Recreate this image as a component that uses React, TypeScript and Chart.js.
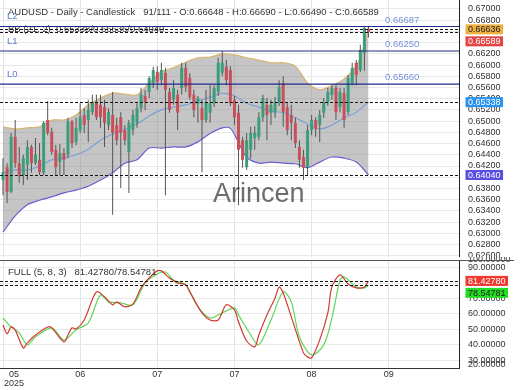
import React, { useEffect, useRef } from 'react';
import { Chart, registerables } from 'chart.js';

Chart.register(...registerables);

const FONT = '"Liberation Sans", Arial, Helvetica, sans-serif';

// ---------------- data ----------------
const symbol = 'AUDUSD';
const timeframe = 'Daily';
const chartKind = 'Candlestick';
const barCounter = '91/111';

// [open, high, low, close]
const ohlc: number[][] = [
  [0.6395, 0.6434, 0.6368, 0.6409],
  [0.6418, 0.6425, 0.6354, 0.6374],
  [0.6374, 0.6479, 0.6372, 0.6472],
  [0.6472, 0.6502, 0.6417, 0.6425],
  [0.6425, 0.6454, 0.639, 0.6404],
  [0.6404, 0.644, 0.6386, 0.6434],
  [0.6422, 0.6466, 0.6395, 0.6454],
  [0.6454, 0.6458, 0.6408, 0.6425],
  [0.6425, 0.647, 0.6422, 0.644],
  [0.6431, 0.6461, 0.6404, 0.6409],
  [0.6408, 0.65, 0.6404, 0.6497],
  [0.6502, 0.6536, 0.6475, 0.6479],
  [0.6481, 0.6488, 0.644, 0.6445],
  [0.6449, 0.6458, 0.6404, 0.6418],
  [0.6427, 0.6459, 0.6404, 0.6443],
  [0.6443, 0.6452, 0.6404, 0.6431],
  [0.644, 0.6506, 0.6434, 0.6499],
  [0.6499, 0.6502, 0.6452, 0.6461],
  [0.6463, 0.6506, 0.6457, 0.6488],
  [0.6484, 0.6532, 0.6479, 0.6507],
  [0.6511, 0.6523, 0.6479, 0.6493],
  [0.6502, 0.6538, 0.6463, 0.652],
  [0.6516, 0.6547, 0.6511, 0.6534],
  [0.6534, 0.6547, 0.6502, 0.6507],
  [0.6529, 0.6547, 0.6488, 0.6507],
  [0.6525, 0.6538, 0.6454, 0.6497],
  [0.6493, 0.6523, 0.6484, 0.6516],
  [0.6511, 0.6552, 0.6333, 0.6479],
  [0.6493, 0.6506, 0.6457, 0.6466],
  [0.6507, 0.6516, 0.6381, 0.6479],
  [0.6484, 0.6493, 0.6457, 0.6466],
  [0.6445, 0.6502, 0.6372, 0.6497],
  [0.6484, 0.652, 0.6475, 0.6511],
  [0.6497, 0.6532, 0.6488, 0.6523],
  [0.6523, 0.6559, 0.6516, 0.6547],
  [0.6545, 0.6556, 0.652, 0.6534],
  [0.6552, 0.658, 0.6541, 0.6577],
  [0.6568, 0.6597, 0.6559, 0.6591],
  [0.6588, 0.6598, 0.6556, 0.657],
  [0.6573, 0.6604, 0.6564, 0.6591],
  [0.6586, 0.6595, 0.6368, 0.6556],
  [0.6552, 0.6559, 0.6515, 0.652],
  [0.6538, 0.6573, 0.6529, 0.6559],
  [0.6547, 0.6556, 0.6484, 0.6515],
  [0.6559, 0.6604, 0.6547, 0.6595],
  [0.6595, 0.6604, 0.6552, 0.6561],
  [0.6577, 0.6586, 0.6538, 0.6543],
  [0.6547, 0.6556, 0.6507, 0.652],
  [0.6531, 0.6545, 0.6497, 0.6541],
  [0.6523, 0.6538, 0.6409, 0.6502],
  [0.6502, 0.6556, 0.6497, 0.6534],
  [0.6515, 0.6564, 0.6497, 0.6532],
  [0.6532, 0.6564, 0.6525, 0.6559],
  [0.6552, 0.6613, 0.6545, 0.6604],
  [0.6586, 0.6625, 0.658, 0.6604],
  [0.6597, 0.6609, 0.6564, 0.6573],
  [0.6591, 0.6598, 0.6527, 0.6532],
  [0.6538, 0.6545, 0.6493, 0.6507],
  [0.6515, 0.6529, 0.635, 0.6449],
  [0.6466, 0.6472, 0.6417, 0.6431],
  [0.6418, 0.6479, 0.6413, 0.6466],
  [0.6449, 0.649, 0.6434, 0.6479],
  [0.647, 0.6491, 0.6449, 0.6479],
  [0.6472, 0.6516, 0.6466, 0.6507],
  [0.6507, 0.6547, 0.6499, 0.6541],
  [0.6529, 0.6541, 0.6466, 0.6511],
  [0.6515, 0.6538, 0.6493, 0.6529],
  [0.6515, 0.6543, 0.6506, 0.6534],
  [0.6534, 0.6573, 0.6527, 0.6561],
  [0.6568, 0.658, 0.649, 0.6516],
  [0.6525, 0.6532, 0.6475, 0.6484],
  [0.6511, 0.6529, 0.6466, 0.6497],
  [0.6497, 0.6506, 0.6452, 0.6461],
  [0.6454, 0.6466, 0.6417, 0.6431],
  [0.6436, 0.6449, 0.6395, 0.6417],
  [0.6418, 0.6493, 0.6404, 0.6484],
  [0.6484, 0.6511, 0.6475, 0.6502],
  [0.6502, 0.6507, 0.6472, 0.6486],
  [0.6493, 0.652, 0.6463, 0.6511],
  [0.6515, 0.6541, 0.6506, 0.6534],
  [0.6534, 0.6559, 0.6527, 0.6552],
  [0.6547, 0.6564, 0.6538, 0.6559],
  [0.6559, 0.6564, 0.6502, 0.6516],
  [0.6525, 0.6559, 0.6516, 0.6552],
  [0.655, 0.6559, 0.6488, 0.6502],
  [0.6516, 0.6582, 0.6511, 0.6577],
  [0.6568, 0.6604, 0.6564, 0.6595],
  [0.6604, 0.6609, 0.6564, 0.6582],
  [0.6591, 0.6636, 0.6588, 0.6627],
  [0.6622, 0.6669, 0.659, 0.6666],
  [0.66648, 0.6669, 0.6649, 0.66589],
];

// Bollinger bands [barIndex, value]
const bbUpper: number[][] = [
  [0, 0.649], [3, 0.6486], [6, 0.6488], [9, 0.649], [12, 0.6502], [15, 0.6502], [18, 0.6511],
  [21, 0.6529], [24, 0.6541], [27, 0.655], [30, 0.6548], [33, 0.6547], [36, 0.6568], [39, 0.6588],
  [42, 0.6595], [45, 0.6605], [48, 0.6613], [51, 0.6614], [54, 0.662], [57, 0.6618], [60, 0.6613],
  [63, 0.6609], [66, 0.6604], [69, 0.6604], [72, 0.6598], [75, 0.6568], [78, 0.6556], [81, 0.6563],
  [84, 0.6575], [87, 0.6598], [88, 0.6613], [89, 0.6638], [90, 0.66636],
];
const bbMiddle: number[][] = [
  [0, 0.6408], [3, 0.6413], [6, 0.6413], [9, 0.642], [12, 0.6431], [15, 0.6434], [18, 0.644],
  [21, 0.645], [24, 0.6466], [27, 0.6477], [30, 0.6486], [33, 0.6495], [36, 0.6509], [39, 0.652],
  [42, 0.6525], [45, 0.6529], [48, 0.6536], [51, 0.6543], [54, 0.655], [57, 0.6545], [60, 0.6532],
  [63, 0.6525], [66, 0.6518], [69, 0.6515], [72, 0.6506], [75, 0.6495], [78, 0.6486], [81, 0.6493],
  [84, 0.6506], [87, 0.6516], [90, 0.65338],
];
const bbLower: number[][] = [
  [0, 0.6302], [3, 0.6331], [6, 0.6351], [9, 0.6359], [12, 0.6365], [15, 0.6372], [18, 0.6377],
  [21, 0.6384], [24, 0.6395], [27, 0.6408], [30, 0.6425], [33, 0.6431], [36, 0.6452], [39, 0.6452],
  [42, 0.6454], [45, 0.6454], [48, 0.6463], [51, 0.6478], [54, 0.6488], [56, 0.6487], [58, 0.6462],
  [60, 0.6436], [63, 0.6425], [66, 0.6427], [69, 0.6425], [72, 0.6424], [75, 0.6417], [78, 0.6427],
  [81, 0.6436], [84, 0.6434], [87, 0.6427], [90, 0.6404],
];

// Full stochastic (5, 8, 3)  [barIndex, value]
const stochK: number[][] = [
  [0, 52.9], [1, 47.1], [2, 51.6], [3, 49.7], [5, 38.0], [6, 41.3], [8, 46.4], [11, 51.6], [12, 51.0],
  [15, 41.9], [16, 46.4], [17, 51.0], [18, 50.3], [20, 56.1], [23, 74.3], [25, 71.1], [27, 65.9],
  [28, 67.8], [30, 64.6], [32, 66.5], [34, 76.9], [36, 83.3], [38, 87.9], [39, 87.9], [41, 83.3],
  [43, 80.1], [45, 78.8], [46, 74.3], [49, 60.7], [51, 56.1], [53, 56.1], [55, 65.9], [57, 62.6],
  [58, 54.9], [60, 42.5], [62, 38.7], [63, 46.4], [65, 59.4], [67, 70.4], [68, 77.5], [69, 73.6],
  [71, 58.1], [74, 34.8], [75, 32.2], [76, 31.6], [78, 43.2], [80, 60.7], [81, 77.5], [83, 85.3],
  [85, 79.4], [87, 76.9], [89, 77.5], [90, 81.4278],
];
const stochD: number[][] = [
  [0, 57.4], [2, 51.6], [4, 47.7], [6, 40.0], [8, 45.1], [12, 51.0], [15, 43.2], [18, 49.7],
  [21, 54.2], [24, 72.3], [26, 67.8], [29, 67.2], [32, 65.9], [35, 80.1], [38, 85.9], [40, 87.2],
  [42, 82.0], [45, 78.8], [48, 64.6], [51, 57.4], [53, 59.4], [57, 63.9], [58, 59.4], [61, 46.4],
  [63, 40.0], [66, 56.1], [69, 74.3], [71, 67.8], [73, 45.1], [76, 33.5], [79, 40.0], [81, 57.4],
  [83, 82.0], [84, 84.0], [87, 77.5], [89, 76.9], [90, 78.54781],
];

const levelValues = [0.6566, 0.6625, 0.66687];
const levelNames = ['L0', 'L1', 'L2'];

const priceTicks = [
  0.626, 0.628, 0.63, 0.632, 0.634, 0.636, 0.638, 0.64, 0.642, 0.644, 0.646, 0.648,
  0.65, 0.652, 0.654, 0.656, 0.658, 0.66, 0.662, 0.664, 0.666, 0.668, 0.67,
];
const stochTicks = [30, 40, 50, 60, 70, 80, 90];
const stochEdgeLabels = [100, 20];

const monthBars = [0, 19, 38, 57, 76, 95];
const monthLabels = ['05', '06', '07', '07', '08', '09'];
const yearLabel = '2025';

const PRICE_MIN = 0.62578;
const PRICE_MAX = 0.67159;
const STOCH_MIN = 25;
const STOCH_MAX = 94.3;
const X_MIN = -0.74;
const X_MAX = 112.3;

// ---------------- derived ----------------
const last = ohlc[ohlc.length - 1];
const lastUpper = bbUpper[bbUpper.length - 1][1];
const lastMiddle = bbMiddle[bbMiddle.length - 1][1];
const lastLower = bbLower[bbLower.length - 1][1];
const lastK = stochK[stochK.length - 1][1];
const lastD = stochD[stochD.length - 1][1];

const f5 = (v: number) => v.toFixed(5);
const pts = (arr: number[][]) => arr.map(([x, y]) => ({ x, y }));

const GREEN = '#3b9e7b';
const RED = '#c8505b';

type Badge = { v: number; bg: string; fg: string };

function drawBadges(ctx: CanvasRenderingContext2D, scale: any, left: number, items: Badge[]) {
  const h = 10;
  let prevBottom = -1e9;
  ctx.font = `9px ${FONT}`;
  ctx.textAlign = 'left';
  ctx.textBaseline = 'middle';
  for (const it of items) {
    const cy = scale.getPixelForValue(it.v);
    const top = Math.max(cy - h / 2, prevBottom + 2);
    const txt = f5(it.v);
    const w = ctx.measureText(txt).width + 5;
    ctx.fillStyle = it.bg;
    ctx.fillRect(left, top, w, h);
    ctx.fillStyle = it.fg;
    ctx.fillText(txt, left + 2.5, top + h / 2 + 0.5);
    prevBottom = top + h;
  }
}

function hLine(ctx: CanvasRenderingContext2D, x0: number, x1: number, y: number) {
  ctx.beginPath();
  ctx.moveTo(x0, y);
  ctx.lineTo(x1, y);
  ctx.stroke();
}

const zeroPad = (s: any) => {
  s.paddingTop = 0;
  s.paddingBottom = 0;
  s.paddingLeft = 0;
  s.paddingRight = 0;
};

function xScale(height: number, borderColor: string) {
  return {
    type: 'linear',
    min: X_MIN,
    max: X_MAX,
    offset: false,
    afterBuildTicks: (s: any) => {
      s.ticks = monthBars.map((v) => ({ value: v }));
    },
    afterFit: (s: any) => {
      s.height = height;
      zeroPad(s);
    },
    ticks: { display: false },
    grid: { color: '#e4e4e4', drawTicks: false, offset: false },
    border: { display: true, color: borderColor, width: 1 },
  };
}

function yScale(min: number, max: number, ticks: number[]) {
  return {
    type: 'linear',
    position: 'right',
    min,
    max,
    afterBuildTicks: (s: any) => {
      s.ticks = ticks.map((v) => ({ value: v }));
    },
    afterFit: (s: any) => {
      s.width = 61;
      zeroPad(s);
    },
    ticks: {
      autoSkip: false,
      padding: 9,
      color: '#333',
      font: { size: 9, family: FONT },
      callback: (v: any) => f5(Number(v)),
    },
    grid: { color: '#e8e8e8', drawTicks: false },
    border: { display: true, color: '#222', width: 1 },
  };
}

const mainDeco = {
  id: 'mainDeco',
  afterDatasetsDraw(chart: any) {
    const { ctx, chartArea: a } = chart;
    const y = chart.scales.y;
    ctx.save();
    // watermark
    ctx.font = `27px ${FONT}`;
    ctx.fillStyle = 'rgba(60,60,60,0.75)';
    ctx.textAlign = 'left';
    ctx.textBaseline = 'alphabetic';
    ctx.fillText('Arincen', 213, 202);
    // header texts
    ctx.font = `9.5px ${FONT}`;
    ctx.fillStyle = '#333';
    ctx.textBaseline = 'middle';
    const title = `${symbol} - ${timeframe} - ${chartKind}   ${barCounter} - O:${f5(last[0])} - H:${f5(last[1])} - L:${f5(last[2])} - C:${f5(last[3])}`;
    ctx.fillText(title, 8, 12);
    ctx.fillText(`BB (21, 2)  ${f5(lastMiddle)}/${f5(lastUpper)}/${f5(lastLower)}`, 8, 29);
    // levels
    ctx.strokeStyle = '#1e2a8a';
    ctx.lineWidth = 1.2;
    levelValues.forEach((v, k) => {
      const py = y.getPixelForValue(v);
      hLine(ctx, a.left, a.right, py);
      ctx.font = `9.5px ${FONT}`;
      ctx.fillStyle = '#5b7fd0';
      ctx.fillText(levelNames[k], 7, py - 10);
      ctx.fillStyle = '#7592d8';
      ctx.fillText(f5(v), 385, py - 6.5);
    });
    // dashed lines
    ctx.strokeStyle = '#111';
    ctx.lineWidth = 1;
    ctx.setLineDash([3, 2]);
    for (const v of [lastUpper, last[3], lastMiddle, lastLower]) {
      const py = Math.round(y.getPixelForValue(v)) + 0.5;
      hLine(ctx, a.left, a.right, py);
    }
    ctx.restore();
  },
  afterDraw(chart: any) {
    const { ctx } = chart;
    ctx.save();
    drawBadges(ctx, chart.scales.y, 465.5, [
      { v: lastUpper, bg: '#eeb040', fg: '#222' },
      { v: last[3], bg: '#e24545', fg: '#fff' },
      { v: lastMiddle, bg: '#2a93ee', fg: '#fff' },
      { v: lastLower, bg: '#5b4fe0', fg: '#fff' },
    ]);
    ctx.restore();
  },
};

const stochDeco = {
  id: 'stochDeco',
  afterDatasetsDraw(chart: any) {
    const { ctx, chartArea: a } = chart;
    const y = chart.scales.y;
    ctx.save();
    ctx.font = `9.5px ${FONT}`;
    ctx.fillStyle = '#333';
    ctx.textAlign = 'left';
    ctx.textBaseline = 'middle';
    ctx.fillText(`FULL (5, 8, 3)   ${f5(lastK)}/${f5(lastD)}`, 8, 15);
    ctx.strokeStyle = '#111';
    ctx.lineWidth = 1;
    ctx.setLineDash([3, 2]);
    for (const v of [lastK, lastD]) {
      const py = Math.round(y.getPixelForValue(v)) + 0.5;
      hLine(ctx, a.left, a.right, py);
    }
    ctx.restore();
  },
  afterDraw(chart: any) {
    const { ctx, chartArea: a } = chart;
    const y = chart.scales.y;
    const x = chart.scales.x;
    ctx.save();
    // edge labels of the oscillator axis
    ctx.font = `9px ${FONT}`;
    ctx.fillStyle = '#333';
    ctx.textAlign = 'left';
    ctx.textBaseline = 'middle';
    ctx.fillText(f5(stochEdgeLabels[0]), 468, a.top - 1);
    ctx.fillText(f5(stochEdgeLabels[1]), 468, a.bottom - 3);
    // separator
    ctx.strokeStyle = '#555';
    ctx.lineWidth = 1;
    hLine(ctx, 0, 514, a.top - 0.5);
    drawBadges(ctx, y, 465.5, [
      { v: lastK, bg: '#ee3a30', fg: '#fff' },
      { v: lastD, bg: '#22dd22', fg: '#222' },
    ]);
    // month labels
    ctx.font = `9px ${FONT}`;
    ctx.fillStyle = '#333';
    ctx.textAlign = 'center';
    monthBars.forEach((b, k) => {
      const px = x.getPixelForValue(b);
      if (k === 0) {
        const bw = Math.max(ctx.measureText(monthLabels[k]).width, ctx.measureText(yearLabel).width);
        const left = Math.max(px - bw / 2, 4);
        ctx.fillText(monthLabels[k], left + bw / 2, a.bottom + 6.5);
        ctx.fillText(yearLabel, left + bw / 2, a.bottom + 16);
      } else {
        ctx.fillText(monthLabels[k], px, a.bottom + 6.5);
      }
    });
    ctx.restore();
  },
};

export default function App() {
  const mainRef = useRef<HTMLCanvasElement>(null);
  const stochRef = useRef<HTMLCanvasElement>(null);

  useEffect(() => {
    document.body.style.margin = '0';
    const colors = ohlc.map((c) => (c[3] >= c[0] ? GREEN : RED));
    const main = new Chart(mainRef.current as HTMLCanvasElement, {
      type: 'bar',
      data: {
        datasets: [
          {
            type: 'line',
            data: pts(bbUpper),
            borderColor: '#d6b56e',
            borderWidth: 1.2,
            pointRadius: 0,
            tension: 0.3,
            fill: '+1',
            backgroundColor: 'rgba(140,140,140,0.5)',
            order: 10,
          },
          {
            type: 'line',
            data: pts(bbLower),
            borderColor: '#6a5fd2',
            borderWidth: 1.2,
            pointRadius: 0,
            tension: 0.3,
            fill: false,
            order: 9,
          },
          {
            type: 'line',
            data: pts(bbMiddle),
            borderColor: '#7d9fd8',
            borderWidth: 1.2,
            pointRadius: 0,
            tension: 0.3,
            fill: false,
            order: 8,
          },
          {
            type: 'bar',
            data: ohlc.map((c, i) => ({ x: i, y: [c[2], c[1]] })),
            backgroundColor: '#555',
            barThickness: 1,
            grouped: false,
            inflateAmount: 0,
            order: 2,
          },
          {
            type: 'bar',
            data: ohlc.map((c, i) => ({ x: i, y: [c[0], c[3]] })),
            backgroundColor: colors,
            barThickness: 3,
            minBarLength: 1,
            grouped: false,
            inflateAmount: 0,
            order: 1,
          },
        ] as any,
      },
      options: {
        animation: false,
        responsive: false,
        maintainAspectRatio: false,
        devicePixelRatio: 1,
        events: [],
        layout: { padding: 0, autoPadding: false },
        plugins: { legend: { display: false }, tooltip: { enabled: false } },
        scales: {
          x: xScale(0, '#aaa'),
          y: yScale(PRICE_MIN, PRICE_MAX, priceTicks),
        } as any,
      },
      plugins: [mainDeco],
    } as any);

    const stoch = new Chart(stochRef.current as HTMLCanvasElement, {
      type: 'line',
      data: {
        datasets: [
          {
            data: pts(stochD),
            borderColor: '#62d55a',
            borderWidth: 1.2,
            pointRadius: 0,
            tension: 0.3,
            order: 2,
          },
          {
            data: pts(stochK),
            borderColor: '#cf3b33',
            borderWidth: 1.2,
            pointRadius: 0,
            tension: 0.3,
            order: 1,
          },
        ],
      },
      options: {
        animation: false,
        responsive: false,
        maintainAspectRatio: false,
        devicePixelRatio: 1,
        events: [],
        layout: { padding: { top: 4, left: 0, right: 0, bottom: 0 }, autoPadding: false },
        plugins: { legend: { display: false }, tooltip: { enabled: false } },
        scales: {
          x: xScale(22, '#333'),
          y: yScale(STOCH_MIN, STOCH_MAX, stochTicks),
        } as any,
      },
      plugins: [stochDeco],
    } as any);

    return () => {
      main.destroy();
      stoch.destroy();
    };
  }, []);

  return (
    <div style={{ position: 'fixed', left: 0, top: 0, width: 520, height: 390, background: '#fff' }}>
      <canvas ref={mainRef} width={520} height={257} style={{ position: 'absolute', left: 0, top: 0 }} />
      <canvas ref={stochRef} width={520} height={133} style={{ position: 'absolute', left: 0, top: 257 }} />
    </div>
  );
}
